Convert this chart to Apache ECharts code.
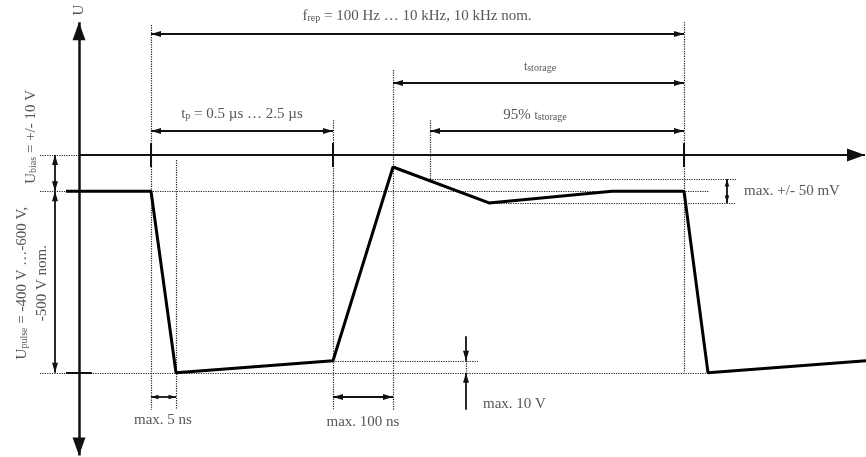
<!DOCTYPE html>
<html>
<head>
<meta charset="utf-8">
<script src="https://cdn.jsdelivr.net/npm/echarts@6/dist/echarts.min.js"></script>
<style>html,body{margin:0;padding:0;background:#fff}#chart{width:866px;height:457px}</style>
</head>
<body>
<div id="chart"></div>
<script>
// schematic units: t = time (arb.), u = voltage (arb., 0 = time axis)
var waveT = [-1.3, 7.2, 9.7, 25.4, 31.4, 41.0, 53.3, 60.5, 62.9, 78.7];
var waveU = [-10, -10, -60, -56.7, -3.3, -13.2, -10, -10, -60, -56.7];

var ticks = [7.2, 25.4, 60.5];

// dotted helper lines
var dottedH = [ // [u, tFrom, tTo]
	[0, -3.9, 0],
	[-10, -3.9, 63],
	[-60, -3.9, 62.9],
	[-6.6, 35.1, 65.7],
	[-13.2, 41.0, 65.7],
	[-56.7, 25.4, 39.9]
];
var dottedV = [ // [t, uFrom, uTo]
	[7.2, 35.8, -70.2],
	[9.7, -1.4, -70.2],
	[25.4, 9.6, -70.2],
	[31.4, 23.4, -70.2],
	[35.1, 9.6, -6.6],
	[60.5, 36.6, -60],
	[38.7, -56.7, -60]
];

// dimension arrows
var dimH = [ // [u, tFrom, tTo]
	[33.3, 7.2, 60.5],
	[19.8, 31.4, 60.5],
	[6.6, 35.1, 60.5],
	[6.6, 7.2, 25.4],
	[-66.7, 25.4, 31.4]
];
var dimV = [ // [t, uFrom, uTo]
	[-2.4, 0, -10],
	[-2.4, -10, -60]
];
var dimSmall = [ // [t1, u1, t2, u2]
	[7.2, -66.7, 9.7, -66.7],
	[64.8, -6.6, 64.8, -13.2]
];
var singleArrows = [ // [t, uFrom, uTo]
	[38.7, -49.9, -56.7],
	[38.7, -70.2, -60]
];

var labels = [
	{ text: 'U', t: 0, u: 39.9, rotate: 90, fs: 15 },
	{ text: 'f{s|rep} = 100 Hz … 10 kHz, 10 kHz nom.', t: 33.8, u: 38.3 },
	{ text: '{m|t}{s|storage}', t: 46.1, u: 24.5 },
	{ text: '95% {m|t}{s|storage}', t: 45.6, u: 11.1 },
	{ text: 't{s|p} = 0.5 µs … 2.5 µs', t: 16.3, u: 11.3 },
	{ text: 'U{s|bias} = +/- 10 V', t: -4.8, u: 5.0, rotate: 90 },
	{ text: 'U{s|pulse} = -400 V …-600 V,\n-500 V nom.', t: -4.7, u: -35.3, rotate: 90 },
	{ text: 'max. 5 ns', t: 8.4, u: -73.0 },
	{ text: 'max. 100 ns', t: 28.4, u: -73.6 },
	{ text: 'max. 10 V', t: 40.4, u: -68.6, left: true },
	{ text: 'max. +/- 50 mV', t: 66.5, u: -9.9, left: true }
];

var ink = '#111';
var arrowPath = 'path://M0,0 M100,100 M50,50 L65,100 L35,100 Z';
var axisArrow = 'path://M0,0 M100,100 M50,50 L68,100 L32,100 Z';

function segs(list, horiz) {
	return list.map(function (d) {
		return { coords: horiz ? [[d[1], d[0]], [d[2], d[0]]] : [[d[0], d[1]], [d[0], d[2]]] };
	});
}

function linesSeries(data, style, symbol, size) {
	return {
		type: 'lines',
		coordinateSystem: 'cartesian2d',
		data: data,
		symbol: symbol || 'none',
		symbolSize: size || 0,
		lineStyle: style,
		silent: true,
		animation: false
	};
}

var font = 'Liberation Serif';
var txt = '#2a2a2a';

var myChart = echarts.init(document.getElementById('chart'));
var option = {
	animation: false,
	grid: { left: 0, right: 0, top: 0, bottom: 0 },
	xAxis: { type: 'value', min: -7.9, max: 78.7, show: false },
	yAxis: { type: 'value', min: -83.2, max: 42.7, show: false },
	series: [
		linesSeries(segs(dottedH, true).concat(segs(dottedV, false)),
			{ color: '#222', width: 1.2, type: [1.2, 1.2], opacity: 1 }),
		// U axis
		linesSeries([{ coords: [[0, -82.8], [0, 36.6]] }],
			{ color: ink, width: 2.5, opacity: 1 }, [axisArrow, axisArrow], [36, 36]),
		// time axis
		linesSeries([{ coords: [[0, 0], [78.6, 0]] }],
			{ color: ink, width: 2, opacity: 1 }, ['none', axisArrow], [0, 36]),
		// ticks
		linesSeries(ticks.map(function (t) { return { coords: [[t, 3.3], [t, -3.3]] }; })
			.concat([{ coords: [[-1.3, -60], [1.3, -60]] }]),
			{ color: ink, width: 2, opacity: 1 }),
		linesSeries(segs(dimH, true).concat(segs(dimV, false)),
			{ color: ink, width: 1.8, opacity: 1 }, [arrowPath, arrowPath], [20, 20]),
		linesSeries(dimSmall.map(function (d) { return { coords: [[d[0], d[1]], [d[2], d[3]]] }; }),
			{ color: ink, width: 1.8, opacity: 1 }, [arrowPath, arrowPath], [15, 15]),
		linesSeries(segs(singleArrows, false),
			{ color: ink, width: 1.8, opacity: 1 }, ['none', arrowPath], [0, 20]),
		{
			type: 'line',
			data: waveT.map(function (t, i) { return [t, waveU[i]]; }),
			showSymbol: false,
			lineStyle: { color: '#000', width: 3 },
			silent: true,
			z: 5
		},
		{
			type: 'scatter',
			symbolSize: 0,
			silent: true,
			data: labels.map(function (l) {
				return {
					value: [l.t, l.u],
					label: {
						show: true,
						formatter: l.text,
						rotate: l.rotate || 0,
						position: l.left ? 'right' : 'inside',
						distance: 0,
						align: l.left ? 'left' : 'center',
						verticalAlign: 'middle',
						fontSize: l.fs || 15,
						lineHeight: 20
					}
				};
			}),
			label: {
				fontFamily: font,
				color: txt,
				rich: {
					s: { fontSize: 10, fontFamily: font, color: txt, verticalAlign: 'middle', lineHeight: 10, padding: [5, 0, 0, 0] },
					m: { fontSize: 12, fontFamily: font, color: txt, verticalAlign: 'middle', lineHeight: 12, padding: [2, 0, 0, 0] }
				}
			}
		}
	]
};
myChart.setOption(option);
</script>
</body>
</html>
